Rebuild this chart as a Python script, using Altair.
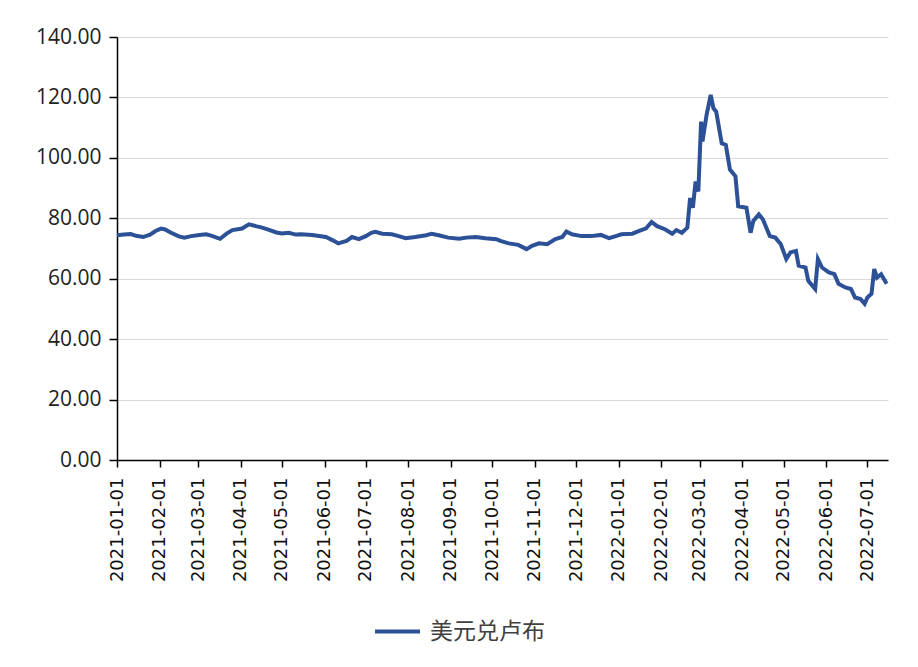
import altair as alt
import pandas as pd

series_name = "美元兑卢布"

dates = [
    "2021-01-01", "2021-01-06", "2021-01-11", "2021-01-15", "2021-01-20", "2021-01-25",
    "2021-01-29", "2021-02-02", "2021-02-05", "2021-02-09", "2021-02-15", "2021-02-19",
    "2021-02-24", "2021-03-02", "2021-03-07", "2021-03-11", "2021-03-17", "2021-03-22",
    "2021-03-26", "2021-04-02", "2021-04-07", "2021-04-12", "2021-04-16", "2021-04-20",
    "2021-04-27", "2021-05-01", "2021-05-06", "2021-05-11", "2021-05-15", "2021-05-23",
    "2021-06-02", "2021-06-07", "2021-06-11", "2021-06-17", "2021-06-21", "2021-06-26",
    "2021-07-01", "2021-07-05", "2021-07-08", "2021-07-13", "2021-07-20", "2021-07-25",
    "2021-07-30", "2021-08-06", "2021-08-14", "2021-08-18", "2021-08-23", "2021-08-30",
    "2021-09-07", "2021-09-12", "2021-09-19", "2021-09-26", "2021-10-04", "2021-10-07",
    "2021-10-13", "2021-10-20", "2021-10-26", "2021-10-30", "2021-11-04", "2021-11-10",
    "2021-11-16", "2021-11-21", "2021-11-24", "2021-11-28", "2021-12-05", "2021-12-12",
    "2021-12-19", "2021-12-25", "2021-12-30", "2022-01-03", "2022-01-11", "2022-01-16",
    "2022-01-21", "2022-01-25", "2022-01-29", "2022-02-04", "2022-02-09", "2022-02-12",
    "2022-02-16", "2022-02-20", "2022-02-22", "2022-02-24", "2022-02-26", "2022-02-28",
    "2022-03-02", "2022-03-03", "2022-03-06", "2022-03-09", "2022-03-11", "2022-03-13",
    "2022-03-17", "2022-03-20", "2022-03-23", "2022-03-27", "2022-03-29", "2022-04-04",
    "2022-04-07", "2022-04-09", "2022-04-13", "2022-04-16", "2022-04-21", "2022-04-25",
    "2022-04-29", "2022-05-03", "2022-05-06", "2022-05-10", "2022-05-12", "2022-05-17",
    "2022-05-19", "2022-05-24", "2022-05-26", "2022-05-29", "2022-06-03", "2022-06-07",
    "2022-06-10", "2022-06-15", "2022-06-19", "2022-06-22", "2022-06-26", "2022-06-29",
    "2022-07-01", "2022-07-04", "2022-07-06", "2022-07-08", "2022-07-11", "2022-07-15",
]

values = [
    74.4, 74.6, 74.8, 74.2, 73.8, 74.6,
    75.8, 76.6, 76.3, 75.3, 74.0, 73.6,
    74.1, 74.5, 74.7, 74.2, 73.2, 75.0,
    76.1, 76.6, 78.0, 77.4, 77.0, 76.4,
    75.3, 75.0, 75.2, 74.6, 74.7, 74.5,
    73.8, 72.7, 71.7, 72.5, 73.8, 73.1,
    74.1, 75.2, 75.5, 74.9, 74.7, 74.1,
    73.4, 73.8, 74.4, 74.9, 74.4, 73.6,
    73.2, 73.6, 73.8, 73.4, 73.1, 72.5,
    71.7, 71.2, 69.8, 70.9, 71.7, 71.4,
    73.1, 73.8, 75.6, 74.7, 74.1, 74.1,
    74.5, 73.4, 74.1, 74.7, 74.9, 75.8,
    76.7, 78.8, 77.4, 76.3, 74.9, 76.1,
    75.2, 76.9, 86.7, 83.5, 92.2, 88.9,
    112.0, 105.4, 114.2, 120.8, 116.4, 115.3,
    104.8, 104.3, 96.1, 93.9, 84.0, 83.5,
    75.2, 79.1, 81.3, 79.6, 74.1, 73.6,
    71.4, 66.5, 68.7, 69.2, 64.3, 63.7,
    59.3, 56.6, 66.5, 63.7, 62.1, 61.5,
    58.3, 57.1, 56.6, 53.8, 53.3, 51.7,
    53.8, 55.0, 63.2, 60.4, 61.5, 58.3,
]

month_ticks = [
    (2021, 1), (2021, 2), (2021, 3), (2021, 4), (2021, 5), (2021, 6), (2021, 7),
    (2021, 8), (2021, 9), (2021, 10), (2021, 11), (2021, 12), (2022, 1), (2022, 2),
    (2022, 3), (2022, 4), (2022, 5), (2022, 6), (2022, 7),
]
y_ticks = [0, 20, 40, 60, 80, 100, 120, 140]

df = pd.DataFrame({"date": dates, "value": values, "series": series_name})

tick_values = [alt.DateTime(year=y, month=m, date=1, utc=True) for y, m in month_ticks]

chart = (
    alt.Chart(df)
    .mark_line(strokeWidth=4, interpolate="linear")
    .encode(
        x=alt.X(
            "date:T",
            scale=alt.Scale(
                type="utc",
                domain=[
                    alt.DateTime(year=2021, month=1, date=1, utc=True),
                    alt.DateTime(year=2022, month=7, date=16, utc=True),
                ],
                nice=False,
            ),
            axis=alt.Axis(
                values=tick_values,
                format="%Y-%m-%d",
                labelAngle=-90,
                labelFont="DejaVu Sans",
                labelFontSize=18,
                labelColor="#111111",
                labelPadding=10,
                tickSize=7,
                tickColor="#000000",
                domainColor="#000000",
                domainWidth=1.5,
                tickWidth=1.5,
                grid=False,
                title=None,
                labelOverlap=False,
                labelFlush=False,
            ),
        ),
        y=alt.Y(
            "value:Q",
            scale=alt.Scale(domain=[0, 140], nice=False),
            axis=alt.Axis(
                values=y_ticks,
                format=".2f",
                labelFont="Open Sans",
                labelFontSize=21,
                labelColor="#222222",
                labelPadding=8,
                tickSize=8,
                tickColor="#000000",
                tickWidth=1.5,
                domainColor="#000000",
                domainWidth=1.5,
                gridColor="#d9d9d9",
                gridWidth=1,
                title=None,
            ),
        ),
        color=alt.Color(
            "series:N",
            scale=alt.Scale(domain=[series_name], range=["#2d5196"]),
            legend=alt.Legend(
                title=None,
                orient="none",
                legendX=256,
                legendY=570,
                symbolType="stroke",
                symbolSize=2025,
                symbolStrokeWidth=4,
                labelFont="Noto Sans CJK SC",
                labelFontSize=23,
                labelColor="#404040",
                labelOffset=8,
            ),
        ),
    )
    .properties(
        width=771,
        height=423,
        autosize="none",
        padding={"left": 109, "top": 29, "right": 22, "bottom": 199},
    )
    .configure_view(stroke="transparent")
)

chart.save("out.html", embed_options={"renderer": "svg", "actions": False})
